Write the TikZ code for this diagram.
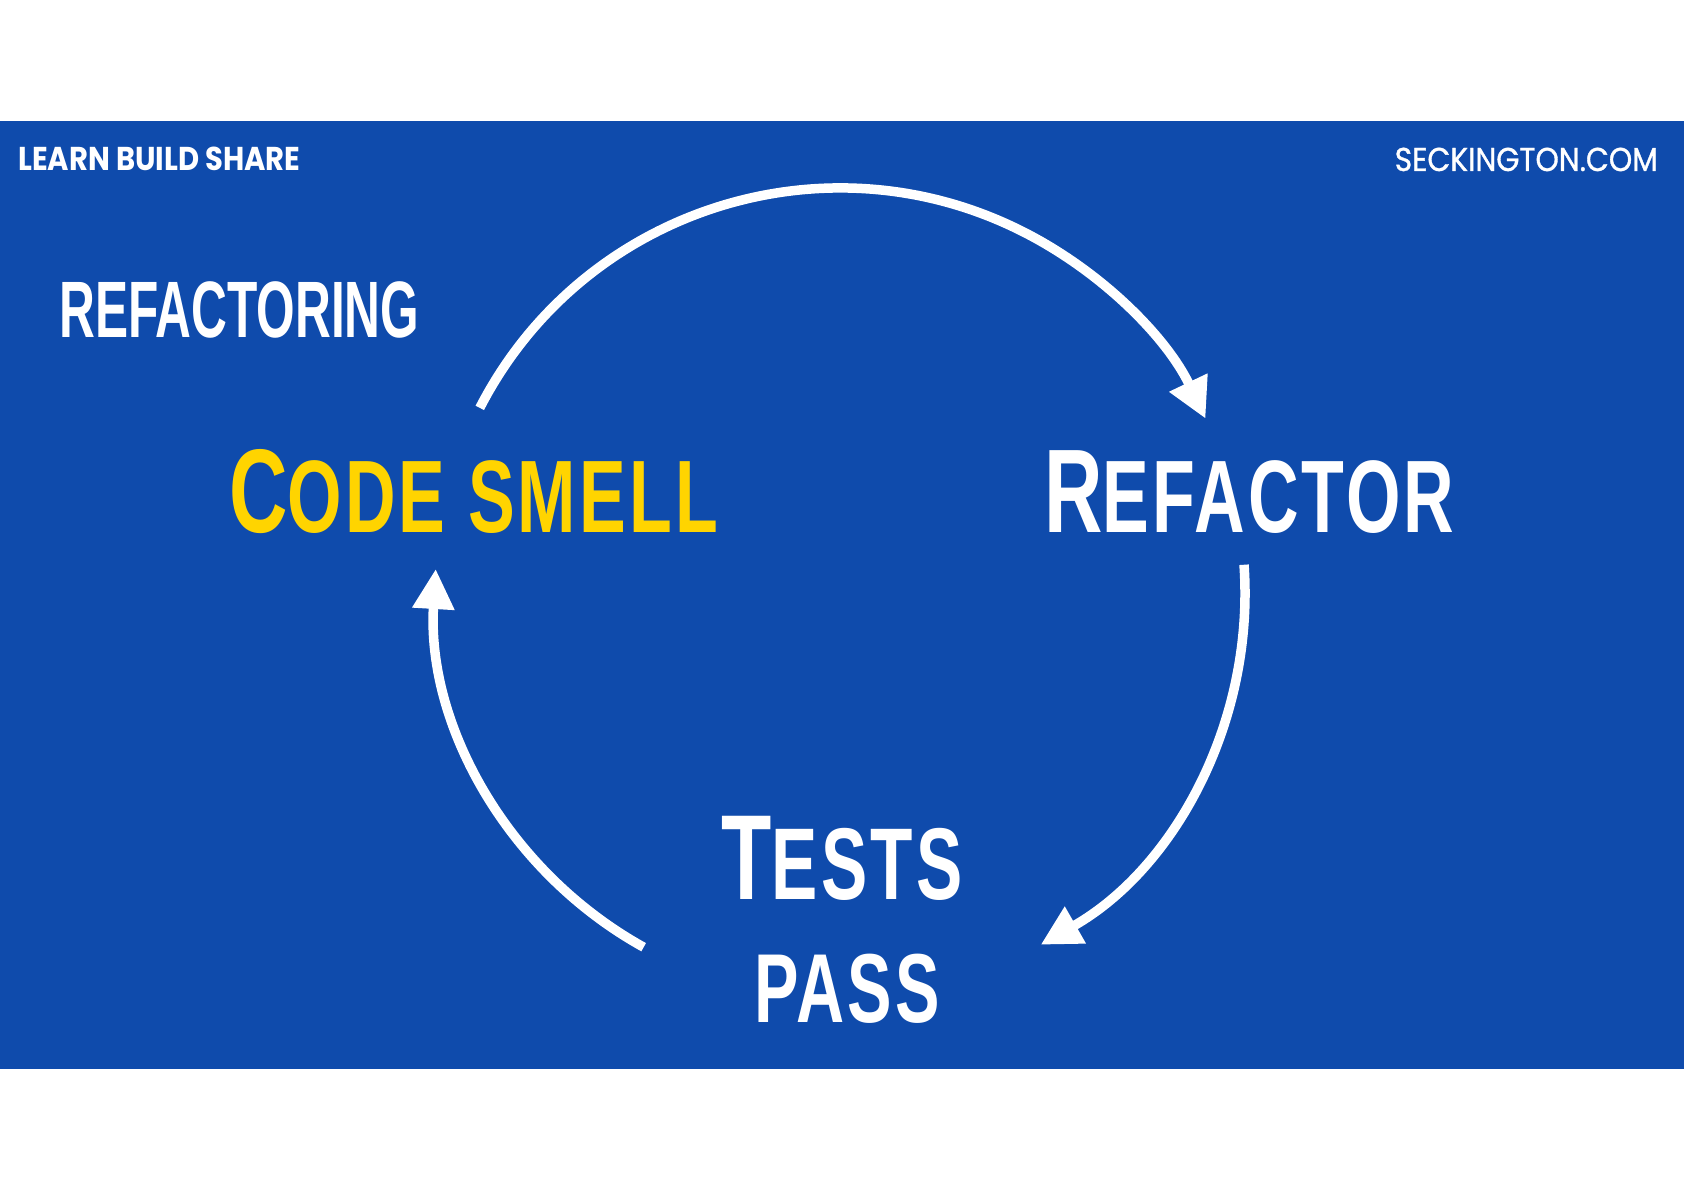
\documentclass[tikz,border=0pt]{standalone}
\usepackage{fontspec}
\usetikzlibrary{arrows.meta,calc}
\newfontfamily\headfont[FakeStretch=0.88]{Poppins}
\newfontfamily\sitefont[FakeStretch=0.9, FakeBold=1]{Poppins}
\newfontfamily\labelfont[FakeStretch=0.68, LetterSpace=3]{Liberation Sans}
\newfontfamily\titlefont[FakeStretch=0.62]{Liberation Sans}
\definecolor{slideblue}{HTML}{0F4BAC}
\definecolor{smellyellow}{HTML}{FFD400}
% big first letter, smaller capitals after it
\newcommand{\capword}[2]{{\fontsize{119}{120}\selectfont #1}{\fontsize{103}{104}\selectfont #2}}
\begin{document}
\begin{tikzpicture}[x=1pt,y=1pt]
    \tikzstyle{lbl}=[inner sep=0pt, text=white, font=\labelfont\bfseries]
    \tikzstyle{cyc}=[white, line width=9.5pt, -{Triangle[length=40pt,width=40pt]}]
    \useasboundingbox (0,0) rectangle (1684,1190);
    \fill[white] (0,0) rectangle (1684,1190);
    \fill[slideblue] (0,121) rectangle (1684,1069);
    \node[inner sep=0pt, text=white, anchor=base west] (brand) at (18,1019)
      {\headfont\bfseries\fontsize{33}{34}\selectfont LEARN BUILD SHARE};
    \node[inner sep=0pt, text=white, anchor=base east] (site) at (1658,1019)
      {\sitefont\fontsize{33}{34}\selectfont SECKINGTON.COM};
    \node[inner sep=0pt, text=white, anchor=base west] (title) at (59,852)
      {\titlefont\bfseries\fontsize{80}{80}\selectfont REFACTORING};
    \node[lbl, text=smellyellow, anchor=base west] (smell) at (229,657) {\capword{C}{ODE SMELL}};
    \node[lbl, anchor=base west] (refactor) at (1044,657) {\capword{R}{EFACTOR}};
    \node[lbl, anchor=base] (tests) at (842,290)
      {{\fontsize{121}{122}\selectfont T}{\fontsize{102}{103}\selectfont ESTS}};
    \node[lbl, anchor=base] (pass) at (847,167) {\fontsize{98}{99}\selectfont PASS};
    % the cycle
    \coordinate (hub) at (840,597);
    \coordinate (smell-out) at ($(hub)+(152.8:405)$);
    \coordinate (refactor-out) at ($(hub)+(4:405)$);
    \coordinate (tests-out) at ($(hub)+(241:405)$);
    \draw[cyc] (smell-out) arc[start angle=152.8, end angle=25.5, radius=405];
    \draw[cyc] (refactor-out) arc[start angle=4, end angle=-60.3, radius=405];
    \draw[cyc] (tests-out) arc[start angle=241, end angle=176.6, radius=405];
\end{tikzpicture}
\end{document}
